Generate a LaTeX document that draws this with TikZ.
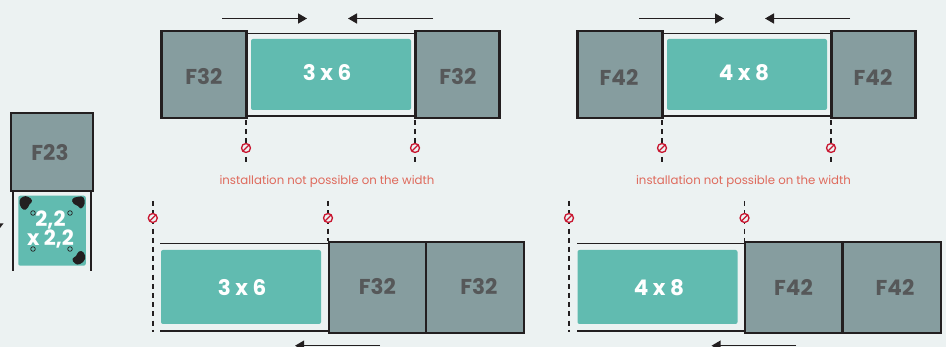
\documentclass[tikz,border=0pt]{standalone}
\usepackage{fontspec}
\setmainfont{Poppins}
\usetikzlibrary{arrows.meta}
\definecolor{bgc}{HTML}{ECF2F2}
\definecolor{tealc}{HTML}{61BBB0}
\definecolor{greyc}{HTML}{869D9F}
\definecolor{labc}{HTML}{565859}
\definecolor{darkc}{HTML}{231F20}
\definecolor{coralc}{HTML}{DF6A5C}
\definecolor{redc}{HTML}{C8152F}
\tikzset{
  x=1pt,y=-1pt,
  fbox/.style={draw=darkc,line width=2.8pt,fill=greyc,minimum width=#1,minimum height=87pt,inner sep=0pt,outer sep=0pt},
  flab/.style={text=labc,font=\fontsize{21.5}{21.5}\selectfont\bfseries,inner sep=0pt},
  plab/.style={text=white,font=\fontsize{21.5}{21.5}\selectfont\bfseries,inner sep=0pt},
  panel/.style={fill=tealc,rounded corners=2pt,minimum width=160pt,minimum height=72pt,inner sep=0pt},
  rail/.style={draw=darkc,line width=1.8pt},
  limit/.style={draw=darkc,line width=1.7pt,dash pattern=on 5pt off 4.2pt},
  push/.style={draw=darkc,line width=1.5pt,-{Triangle[length=9pt,width=10pt]}},
  note/.style={text=coralc,font=\fontsize{11.75}{12}\selectfont,inner sep=0pt},
  nope/.style={circle,draw=redc,fill=bgc,line width=1.3pt,minimum size=9pt,inner sep=0pt,
     path picture={\draw[redc,line width=1.3pt] (path picture bounding box.south west)--(path picture bounding box.north east);}},
  hole/.style={circle,draw=darkc,line width=.7pt,minimum size=4.6pt,inner sep=0pt},
}
\begin{document}
\begin{tikzpicture}
\useasboundingbox (0,0) rectangle (946,347);
\clip (0,0) rectangle (946,347);
\fill[bgc] (0,0) rectangle (946,347);
% ---- left small unit
\fill[darkc] (0,223.5)--(3.5,223.5)--(0,228)--cycle;
\coordinate (la) at (13,191); \coordinate (lb) at (13,271.5);
\coordinate (ra) at (91,191); \coordinate (rb) at (91,271.5);
\draw[rail] (la)--(lb); \draw[rail] (ra)--(rb);
\node[fbox=82pt,minimum height=78pt,line width=2pt] (f23) at (52.2,152.2) {};
\node[flab] (f23t) at (50,153) {F23};
\node[panel,minimum width=67.5pt,minimum height=70pt] (p22) at (52,230.7) {};
\fill[darkc] plot[smooth cycle,tension=.8] coordinates {(19.5,201) (23,196.8) (28,196.8) (32,200.5) (29.5,204.5) (26,209.5) (21.5,208)};
\fill[darkc] plot[smooth cycle,tension=.8] coordinates {(72.5,199) (78,196.8) (83.5,197.5) (84.5,204) (81,208.5) (78,206) (73.5,203.5)};
\fill[darkc] plot[smooth cycle,tension=.8] coordinates {(72.5,259) (76,256) (79,251.5) (83.5,252.5) (85,259) (80,264) (75,263.5)};
\node[hole] (h1) at (33,213) {}; \node[hole] (h2) at (70,213) {};
\node[hole] (h3) at (33,249) {}; \node[hole] (h4) at (70,249) {};
\node[text=white,font=\fontsize{21}{19}\selectfont\bfseries,align=center,inner sep=0pt] (t22) at (50.5,229.5) {2,2\\x 2,2};
% ---- top left
\node[fbox=84.5pt,minimum height=87pt] (a1) at (204,74.5) {};
\node[fbox=83.5pt,minimum height=87pt] (a2) at (457.5,74.5) {};
\node[flab] (a1t) at (204,77) {F32};
\node[flab] (a2t) at (458,77) {F32};
\draw[rail] (a1.east |- 0,33.5)--(a2.west |- 0,33.5);
\draw[rail] (a1.east |- 0,116)--(a2.west |- 0,116);
\node[panel,minimum height=71pt] (ap) at (331,74.5) {};
\node[plab] (at) at (327,72.5) {3 x 6};
\coordinate (aA) at (222,18.5); \coordinate (aB) at (307,18.5);
\coordinate (aC) at (433,18.5); \coordinate (aD) at (348,18.5);
\draw[push] (aA)--(aB); \draw[push] (aC)--(aD);
\coordinate (ad1) at (246,120); \coordinate (ad2) at (246,165);
\coordinate (ad3) at (415,120); \coordinate (ad4) at (415,165);
\draw[limit] (ad1)--(ad2); \draw[limit] (ad3)--(ad4);
\node[nope] (an1) at (246,148) {}; \node[nope] (an2) at (415,148) {};
\node[note] (an) at (327,182) {installation not possible on the width};
% ---- top right
\node[fbox=84.5pt,minimum height=87pt] (b1) at (620,74.5) {};
\node[fbox=83.5pt,minimum height=87pt] (b2) at (873.5,74.5) {};
\node[flab] (b1t) at (619,77) {F42};
\node[flab] (b2t) at (873,77) {F42};
\draw[rail] (b1.east |- 0,33.5)--(b2.west |- 0,33.5);
\draw[rail] (b1.east |- 0,116)--(b2.west |- 0,116);
\node[panel,minimum height=71pt] (bp) at (747,74.5) {};
\node[plab] (bt) at (744,72.5) {4 x 8};
\coordinate (bA) at (639,18.5); \coordinate (bB) at (724,18.5);
\coordinate (bC) at (850,18.5); \coordinate (bD) at (765,18.5);
\draw[push] (bA)--(bB); \draw[push] (bC)--(bD);
\coordinate (bd1) at (662,120); \coordinate (bd2) at (662,165);
\coordinate (bd3) at (831,120); \coordinate (bd4) at (831,165);
\draw[limit] (bd1)--(bd2); \draw[limit] (bd3)--(bd4);
\node[nope] (bn1) at (662,148) {}; \node[nope] (bn2) at (831,148) {};
\node[note] (bn) at (743.5,182) {installation not possible on the width};
% ---- bottom left
\coordinate (cr1) at (160,243.5); \coordinate (cr2) at (160,331);
\node[fbox=97pt,minimum height=91.5pt,line width=2pt] (c1) at (377,287.3) {};
\node[fbox=98pt,minimum height=91.5pt,line width=2pt] (c2) at (475,287.3) {};
\node[flab] (c1t) at (377.5,287) {F32};
\node[flab] (c2t) at (479,287) {F32};
\draw[rail] (cr1)--(c1.west |- cr1); \draw[rail] (cr2)--(c1.west |- cr2);
\node[panel,minimum height=74pt] (cp) at (241,287) {};
\node[plab] (cpt) at (242,287.5) {3 x 6};
\coordinate (cd1) at (152.8,201); \coordinate (cd2) at (152.8,332);
\coordinate (cd3) at (328,201); \coordinate (cd4) at (328,241);
\draw[limit] (cd1)--(cd2); \draw[limit] (cd3)--(cd4);
\node[nope] (cn1) at (152.8,218) {}; \node[nope] (cn2) at (328,218) {};
\coordinate (cA) at (380,345.7); \coordinate (cB) at (295,345.7);
\draw[push] (cA)--(cB);
% ---- bottom right
\coordinate (dr1) at (577,243.5); \coordinate (dr2) at (577,331);
\node[fbox=97pt,minimum height=91.5pt,line width=2pt] (d1) at (793.5,287.3) {};
\node[fbox=98pt,minimum height=91.5pt,line width=2pt] (d2) at (891.5,287.3) {};
\node[flab] (d1t) at (793.5,287) {F42};
\node[flab] (d2t) at (895,287) {F42};
\draw[rail] (dr1)--(d1.west |- dr1); \draw[rail] (dr2)--(d1.west |- dr2);
\node[panel,minimum height=74pt] (dp) at (657.5,287) {};
\node[plab] (dpt) at (659,287.5) {4 x 8};
\coordinate (dd1) at (569,201); \coordinate (dd2) at (569,332);
\coordinate (dd3) at (744.5,201); \coordinate (dd4) at (744.5,241);
\draw[limit] (dd1)--(dd2); \draw[limit] (dd3)--(dd4);
\node[nope] (dn1) at (569,218) {}; \node[nope] (dn2) at (744.5,218) {};
\coordinate (dA) at (796,345.7); \coordinate (dB) at (711.5,345.7);
\draw[push] (dA)--(dB);
\end{tikzpicture}
\end{document}
